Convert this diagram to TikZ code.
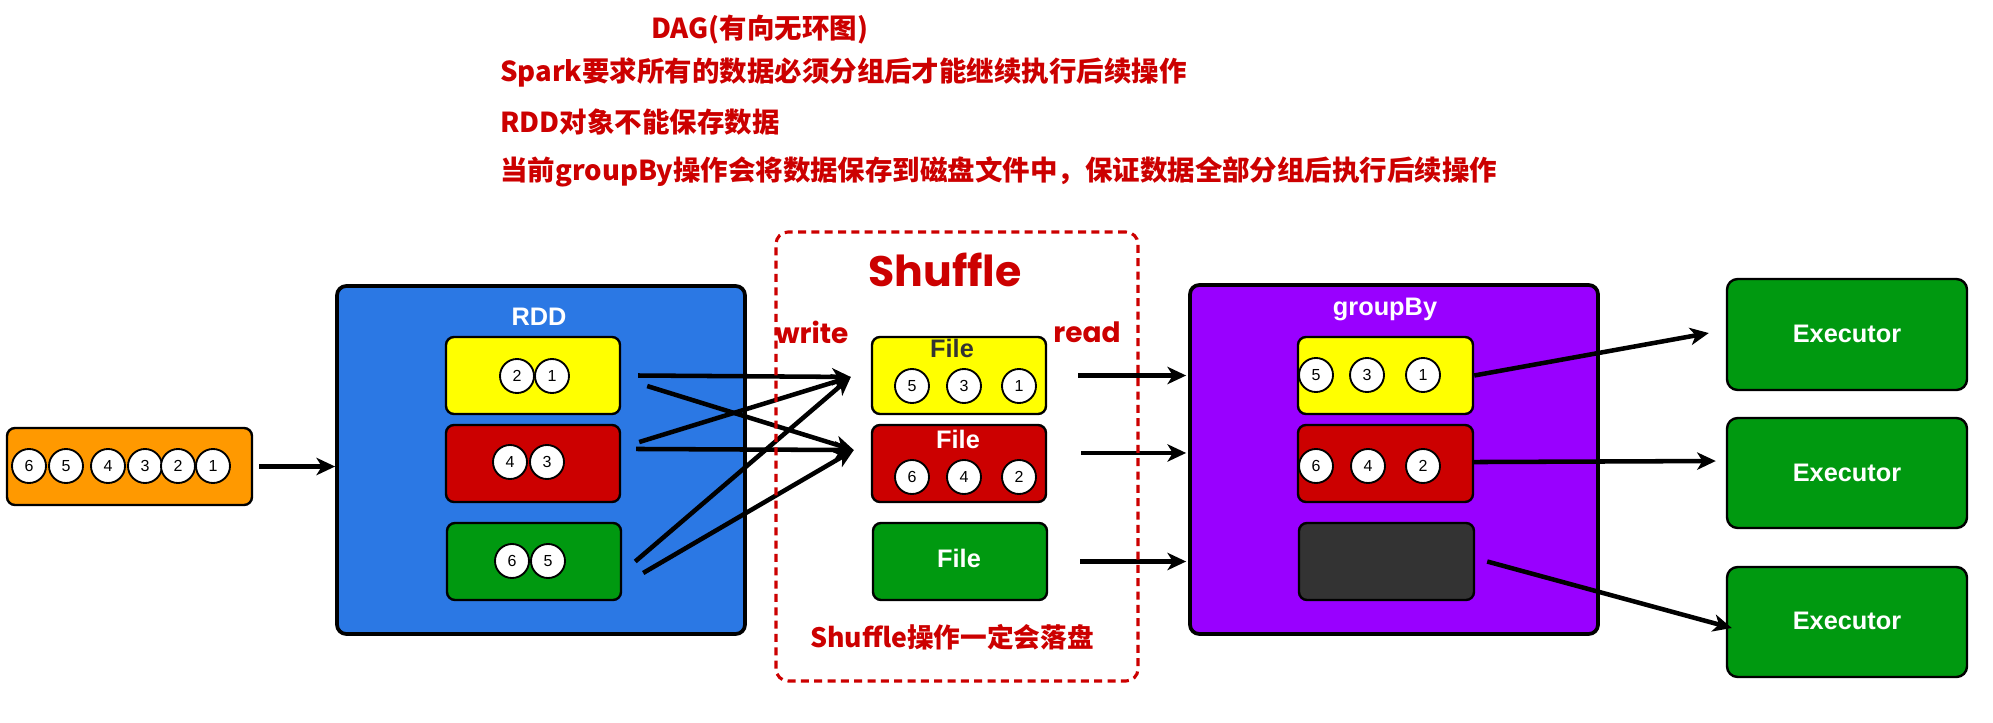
\documentclass[tikz,border=0pt]{standalone}
\usepackage{fontspec}
\setmainfont{Liberation Sans}
\newfontfamily\cjk{Noto Sans CJK SC}
\newfontfamily\pop{Poppins}
\usetikzlibrary{arrows.meta,calc}
\definecolor{cred}{HTML}{CC0000}
\definecolor{corange}{HTML}{FF9900}
\definecolor{cblue}{HTML}{2B78E4}
\definecolor{cyellow}{HTML}{FFFF00}
\definecolor{cgreen}{HTML}{009910}
\definecolor{cpurple}{HTML}{9900FF}
\definecolor{cdark}{HTML}{333333}
\begin{document}
\begin{tikzpicture}[x=0.75pt,y=-0.75pt,
  sz/.style 2 args={minimum width=#1*0.75pt, minimum height=#2*0.75pt},
  outerbox/.style={draw=black, line width=2.8pt, rounded corners=7pt, inner sep=0pt},
  innerbox/.style={draw=black, line width=1.8pt, rounded corners=6pt, inner sep=0pt},
  num/.style={circle, draw=black, fill=white, line width=1.4pt, minimum size=25.5pt, inner sep=0pt, font=\fontsize{12pt}{12pt}\selectfont},
  arr/.style={line width=3.4pt, -{Stealth[length=14pt,width=13pt,inset=4pt]}},
  lbl/.style={font=\bfseries\fontsize{19pt}{19pt}\selectfont, text=white, inner sep=0pt, anchor=base},
  redtxt/.style={text=cred, font=\cjk\bfseries\fontsize{20.6pt}{20.6pt}\selectfont, anchor=west, inner sep=0pt},
  poptxt/.style={text=cred, font=\pop\bfseries\fontsize{21pt}{21pt}\selectfont, inner sep=0pt}
]
\useasboundingbox (0,0) rectangle (1993,722);

% top texts
\node[redtxt] (t1) at (651,30) {DAG(有向无环图)};
\node[redtxt] (t2) at (500,72) {Spark要求所有的数据必须分组后才能继续执行后续操作};
\node[redtxt] (t3) at (500,122) {RDD对象不能保存数据};
\node[redtxt] (t4) at (500,172) {当前groupBy操作会将数据保存到磁盘文件中，保证数据全部分组后执行后续操作};

% source
\node[innerbox, fill=corange, sz={245}{77}] (src) at (129.5,466.5) {};
\node[num] (s6) at (29,466) {6};
\node[num] (s5) at (66,466) {5};
\node[num] (s4) at (108,466) {4};
\node[num] (s3) at (145,466) {3};
\node[num] (s2) at (178,466) {2};
\node[num] (s1) at (213,466) {1};

% RDD
\node[outerbox, fill=cblue, sz={408}{348}] (rdd) at (541,460) {};
\node[lbl] (rddl) at (539,325) {RDD};
\node[innerbox, fill=cyellow, sz={174}{77}] (r1) at (533,375.5) {};
\node[innerbox, fill=cred, sz={174}{77}] (r2) at (533,463.5) {};
\node[innerbox, fill=cgreen, sz={174}{77}] (r3) at (534,561.5) {};
\node[num] (r1a) at (517,376) {2};
\node[num] (r1b) at (552,376) {1};
\node[num] (r2a) at (510,462) {4};
\node[num] (r2b) at (547,462) {3};
\node[num] (r3a) at (512,561) {6};
\node[num] (r3b) at (548,561) {5};

% Shuffle files
\node[innerbox, fill=cyellow, sz={174}{77}] (f1) at (959,375.5) {};
\node[innerbox, fill=cred, sz={174}{77}] (f2) at (959,463.5) {};
\node[innerbox, fill=cgreen, sz={174}{77}] (f3) at (960,561.5) {};
\node[lbl, text=cdark] (f1l) at (952,357) {File};
\node[lbl] (f2l) at (958,448) {File};
\node[lbl] (f3l) at (959,567) {File};
\node[num] (f1a) at (912,386) {5};
\node[num] (f1b) at (964,386) {3};
\node[num] (f1c) at (1019,386) {1};
\node[num] (f2a) at (912,477) {6};
\node[num] (f2b) at (964,477) {4};
\node[num] (f2c) at (1019,477) {2};

\node[poptxt, font=\pop\bfseries\fontsize{32pt}{32pt}\selectfont] (shl) at (945,270) {Shuffle};
\node[poptxt, anchor=west] (wr) at (775,332) {write};
\node[poptxt, anchor=west] (rd) at (1053,332) {read};
\node[redtxt, anchor=center, font=\cjk\bfseries\fontsize{20pt}{20pt}\selectfont] (shn) at (952,637) {Shuffle操作一定会落盘};

% groupBy
\node[outerbox, fill=cpurple, sz={408}{349}] (gb) at (1394,459.5) {};
\node[lbl] (gbl) at (1385,315) {groupBy};
\node[innerbox, fill=cyellow, sz={175}{77}] (g1) at (1385.5,375.5) {};
\node[innerbox, fill=cred, sz={175}{77}] (g2) at (1385.5,463.5) {};
\node[innerbox, fill=cdark, sz={175}{77}] (g3) at (1386.5,561.5) {};
\node[num] (g1a) at (1316,375) {5};
\node[num] (g1b) at (1367,375) {3};
\node[num] (g1c) at (1423,375) {1};
\node[num] (g2a) at (1316,466) {6};
\node[num] (g2b) at (1368,466) {4};
\node[num] (g2c) at (1423,466) {2};

% Executors
\node[innerbox, fill=cgreen, rounded corners=8pt, sz={240}{111}] (e1) at (1847,334.5) {};
\node[innerbox, fill=cgreen, rounded corners=8pt, sz={240}{110}] (e2) at (1847,473) {};
\node[innerbox, fill=cgreen, rounded corners=8pt, sz={240}{110}] (e3) at (1847,622) {};
\node[lbl] (e1l) at (1847,342) {Executor};
\node[lbl] (e2l) at (1847,481) {Executor};
\node[lbl] (e3l) at (1847,629) {Executor};

% connectors
\coordinate (so) at ([xshift=4.5pt]src.east);
\draw[arr] (so) -- (rdd.west |- so);

\coordinate (ta) at ([xshift=-15pt,yshift=-1.1pt]f1.west);
\coordinate (tb) at ([xshift=-12.75pt,yshift=10.1pt]f2.west);
\draw[arr] ([xshift=12.75pt]r1.east) -- (ta);
\draw[arr] ([xshift=19.5pt,yshift=-7.9pt]r1.east) -- (tb);
\draw[arr] ([xshift=13.5pt,yshift=16.1pt]r2.east) -- (ta);
\draw[arr] ([xshift=11.25pt,yshift=10.9pt]r2.east) -- (tb);
\draw[arr] ([xshift=9.75pt]r3.east) -- (ta);
\draw[arr] ([xshift=15.75pt,yshift=-8.6pt]r3.east) -- (tb);

\coordinate (ra) at ([xshift=23.25pt]f1.east);
\coordinate (rb) at ([xshift=25.5pt,yshift=7.9pt]f2.east);
\coordinate (rc) at ([xshift=24pt]f3.east);
\draw[arr] (ra) -- ([xshift=-1.5pt]gb.west |- ra);
\draw[arr] (rb) -- ([xshift=-1.5pt]gb.west |- rb);
\draw[arr] (rc) -- ([xshift=-1.5pt]gb.west |- rc);

\draw[arr] (g1.east) -- ([xshift=-12.75pt,yshift=1.1pt]e1.west);
\draw[arr] ([yshift=1.1pt]g2.east) -- ([xshift=-7.5pt,yshift=9pt]e2.west);
\draw[arr] ([xshift=9pt]g3.east) -- ([xshift=4.5pt,yshift=-4.5pt]e3.west);

% Shuffle dashed region
\node[draw=cred, line width=2.3pt, dash pattern=on 6pt off 4pt, rounded corners=9pt, sz={362}{449}, inner sep=0pt] (shuf) at (957,456.5) {};
\end{tikzpicture}
\end{document}
